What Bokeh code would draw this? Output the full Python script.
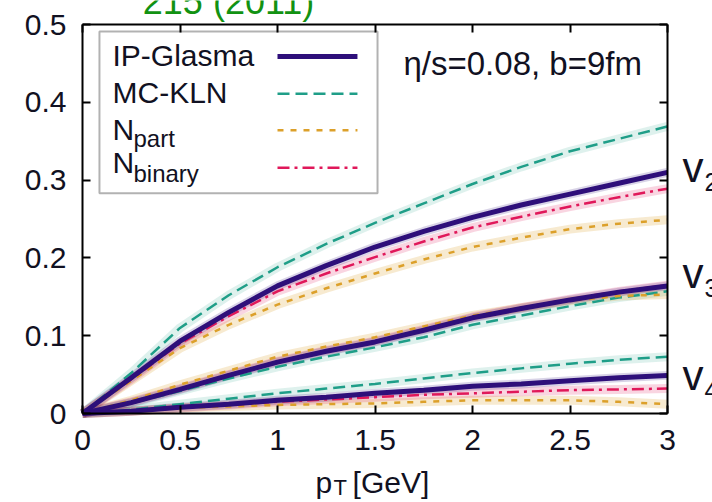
from bokeh.plotting import figure
from bokeh.models import Range1d, LinearAxis, FixedTicker, NumeralTickFormatter, Label, BoxAnnotation
from bokeh.embed import file_html
from bokeh.resources import INLINE

# ---------------- data ----------------
pt = [0.0, 0.25, 0.5, 0.75, 1.0, 1.25, 1.5, 1.75, 2.0, 2.25, 2.5, 2.75, 3.0]

ipg_v2 = [0.0, 0.046, 0.093, 0.130, 0.164, 0.190, 0.214, 0.234, 0.252, 0.268, 0.282, 0.296, 0.310]
kln_v2 = [0.0, 0.052, 0.110, 0.152, 0.188, 0.218, 0.245, 0.270, 0.295, 0.317, 0.337, 0.353, 0.369]
npart_v2 = [0.0, 0.042, 0.084, 0.114, 0.140, 0.161, 0.180, 0.198, 0.214, 0.226, 0.237, 0.244, 0.249]
nbin_v2 = [0.0, 0.044, 0.090, 0.125, 0.157, 0.180, 0.201, 0.221, 0.239, 0.253, 0.266, 0.278, 0.289]

ipg_v3 = [0.0, 0.014, 0.031, 0.049, 0.066, 0.080, 0.092, 0.107, 0.123, 0.135, 0.146, 0.156, 0.164]
kln_v3 = [0.0, 0.013, 0.029, 0.045, 0.060, 0.073, 0.085, 0.098, 0.114, 0.126, 0.138, 0.149, 0.157]
npart_v3 = [0.0, 0.017, 0.037, 0.055, 0.073, 0.086, 0.098, 0.112, 0.126, 0.136, 0.145, 0.151, 0.153]
nbin_v3 = [0.0, 0.015, 0.032, 0.050, 0.067, 0.081, 0.093, 0.108, 0.124, 0.136, 0.147, 0.157, 0.165]

ipg_v4 = [0.0, 0.003, 0.008, 0.012, 0.017, 0.021, 0.026, 0.030, 0.035, 0.038, 0.042, 0.046, 0.049]
kln_v4 = [0.0, 0.005, 0.012, 0.019, 0.026, 0.032, 0.038, 0.045, 0.052, 0.058, 0.064, 0.069, 0.073]
npart_v4 = [0.0, 0.003, 0.007, 0.009, 0.011, 0.012, 0.013, 0.015, 0.017, 0.017, 0.017, 0.015, 0.012]
nbin_v4 = [0.0, 0.003, 0.007, 0.011, 0.015, 0.018, 0.021, 0.024, 0.026, 0.028, 0.030, 0.031, 0.032]

x_ticks = [0, 0.5, 1, 1.5, 2, 2.5, 3]
y_ticks = [0, 0.1, 0.2, 0.3, 0.4, 0.5]
x_lim = (0, 3)
y_lim = (0, 0.5)

# ---------------- styles ----------------
FONT = "Liberation Sans"
TXT = "#111122"
C_IPG = "#2e0f7a"
C_KLN = "#1f9e88"
C_NPART = "#dca02a"
C_NBIN = "#e0185a"

styles = {
    "ipg": dict(line_color=C_IPG, line_width=5),
    "kln": dict(line_color=C_KLN, line_width=2.5, line_dash="12 6"),
    "npart": dict(line_color=C_NPART, line_width=2.5, line_dash="6 7"),
    "nbin": dict(line_color=C_NBIN, line_width=2.5, line_dash="12 5 3 5"),
}
bands = {"ipg": 0.18, "kln": 0.15, "npart": 0.22, "nbin": 0.18}

# The frame spans the whole canvas; the axes sit at fixed data locations so
# that texts outside the data box (title remnant, axis label, v_n labels) show.
W, H = 712, 502
FL, FR, FT, FB = 82, 667, 24, 413          # pixel box of the data area
sx = (FR - FL) / (x_lim[1] - x_lim[0])
sy = (FB - FT) / (y_lim[1] - y_lim[0])
xr = Range1d(x_lim[0] - FL / sx, x_lim[1] + (W - FR) / sx)
yr = Range1d(y_lim[0] - (H - FB) / sy, y_lim[1] + FT / sy)

p = figure(width=W, height=H, output_backend="svg", toolbar_location=None,
           x_range=xr, y_range=yr, x_axis_type=None, y_axis_type=None,
           min_border=0)
p.xgrid.visible = False
p.ygrid.visible = False
p.outline_line_color = None
p.background_fill_color = "white"
p.border_fill_color = "white"

def make_axis(ticks, loc, bounds, labels=True):
    ax = LinearAxis(fixed_location=loc, bounds=bounds)
    ax.ticker = FixedTicker(ticks=ticks)
    ax.axis_line_color = "black"
    ax.axis_line_width = 2
    ax.major_tick_in = 8
    ax.major_tick_out = 0
    ax.major_tick_line_width = 2
    ax.major_tick_line_color = "black"
    ax.minor_tick_line_color = None
    if labels:
        ax.formatter = NumeralTickFormatter(format="0.[0]")
        ax.major_label_text_font = FONT
        ax.major_label_text_font_size = "30px"
        ax.major_label_text_color = TXT
        ax.major_label_standoff = 16
    else:
        ax.major_label_overrides = {t: "" for t in ticks}
        ax.major_label_text_font_size = "1px"
        ax.major_label_standoff = 0
    return ax

p.add_layout(make_axis(x_ticks, y_lim[0], x_lim), "below")
p.add_layout(make_axis(y_ticks, x_lim[0], y_lim), "left")
p.add_layout(make_axis(x_ticks, y_lim[1], x_lim, labels=False), "above")
p.add_layout(make_axis(y_ticks, x_lim[1], y_lim, labels=False), "right")

# legend box (under glyphs)
p.add_layout(BoxAnnotation(left=0.087, right=1.513, top=0.491, bottom=0.283,
                           fill_color="white", fill_alpha=1.0, line_color="black",
                           line_width=2, level="underlay"))

series = [
    ("kln", [kln_v2, kln_v3, kln_v4]),
    ("npart", [npart_v2, npart_v3, npart_v4]),
    ("nbin", [nbin_v2, nbin_v3, nbin_v4]),
    ("ipg", [ipg_v2, ipg_v3, ipg_v4]),
]
for key, ys_list in series:
    st = styles[key]
    for ys in ys_list:
        p.line(pt, ys, line_color=st["line_color"], line_width=9, line_alpha=bands[key])
for key, ys_list in series:
    st = styles[key]
    for ys in ys_list:
        p.line(pt, ys, **st)

# legend samples and labels
leg_rows = [("ipg", 0.459), ("kln", 0.411), ("npart", 0.364), ("nbin", 0.316)]
for key, yy in leg_rows:
    p.line([1.0, 1.41], [yy, yy], **styles[key])

def lab(x, y, text, size, color=TXT, align="left", baseline="middle"):
    p.add_layout(Label(x=x, y=y, text=text, text_font=FONT, text_font_size=size,
                       text_color=color, text_align=align, text_baseline=baseline))

lab(0.154, 0.4602, "IP-Glasma", "30px")
lab(0.154, 0.4120, "MC-KLN", "30px")
lab(0.154, 0.3650, "N", "30px")
lab(0.2615, 0.3535, "part", "24px")
lab(0.154, 0.3226, "N", "30px")
lab(0.2615, 0.3085, "binary", "24px")

lab(1.646, 0.4499, "\u03b7/s=0.08, b=9fm", "33px")

# green reference text (partly cut at top of the page)
lab(0.749, 0.5296, "215 (2011)", "36px", color="#129212", align="center")

# x axis label p_T [GeV]
lab(1.195, -0.0891, "p", "30px")
lab(1.287, -0.0956, "T", "22px")
lab(1.385, -0.0891, "[GeV]", "30px")

# harmonic labels
for name, yv, ys in [("2", 0.3162, 0.2982), ("3", 0.1799, 0.1607), ("4", 0.0488, 0.0308)]:
    lab(3.077, yv, "v", "42px")
    lab(3.190, ys, name, "25px")

open("out.html", "w").write(file_html(p, INLINE))
